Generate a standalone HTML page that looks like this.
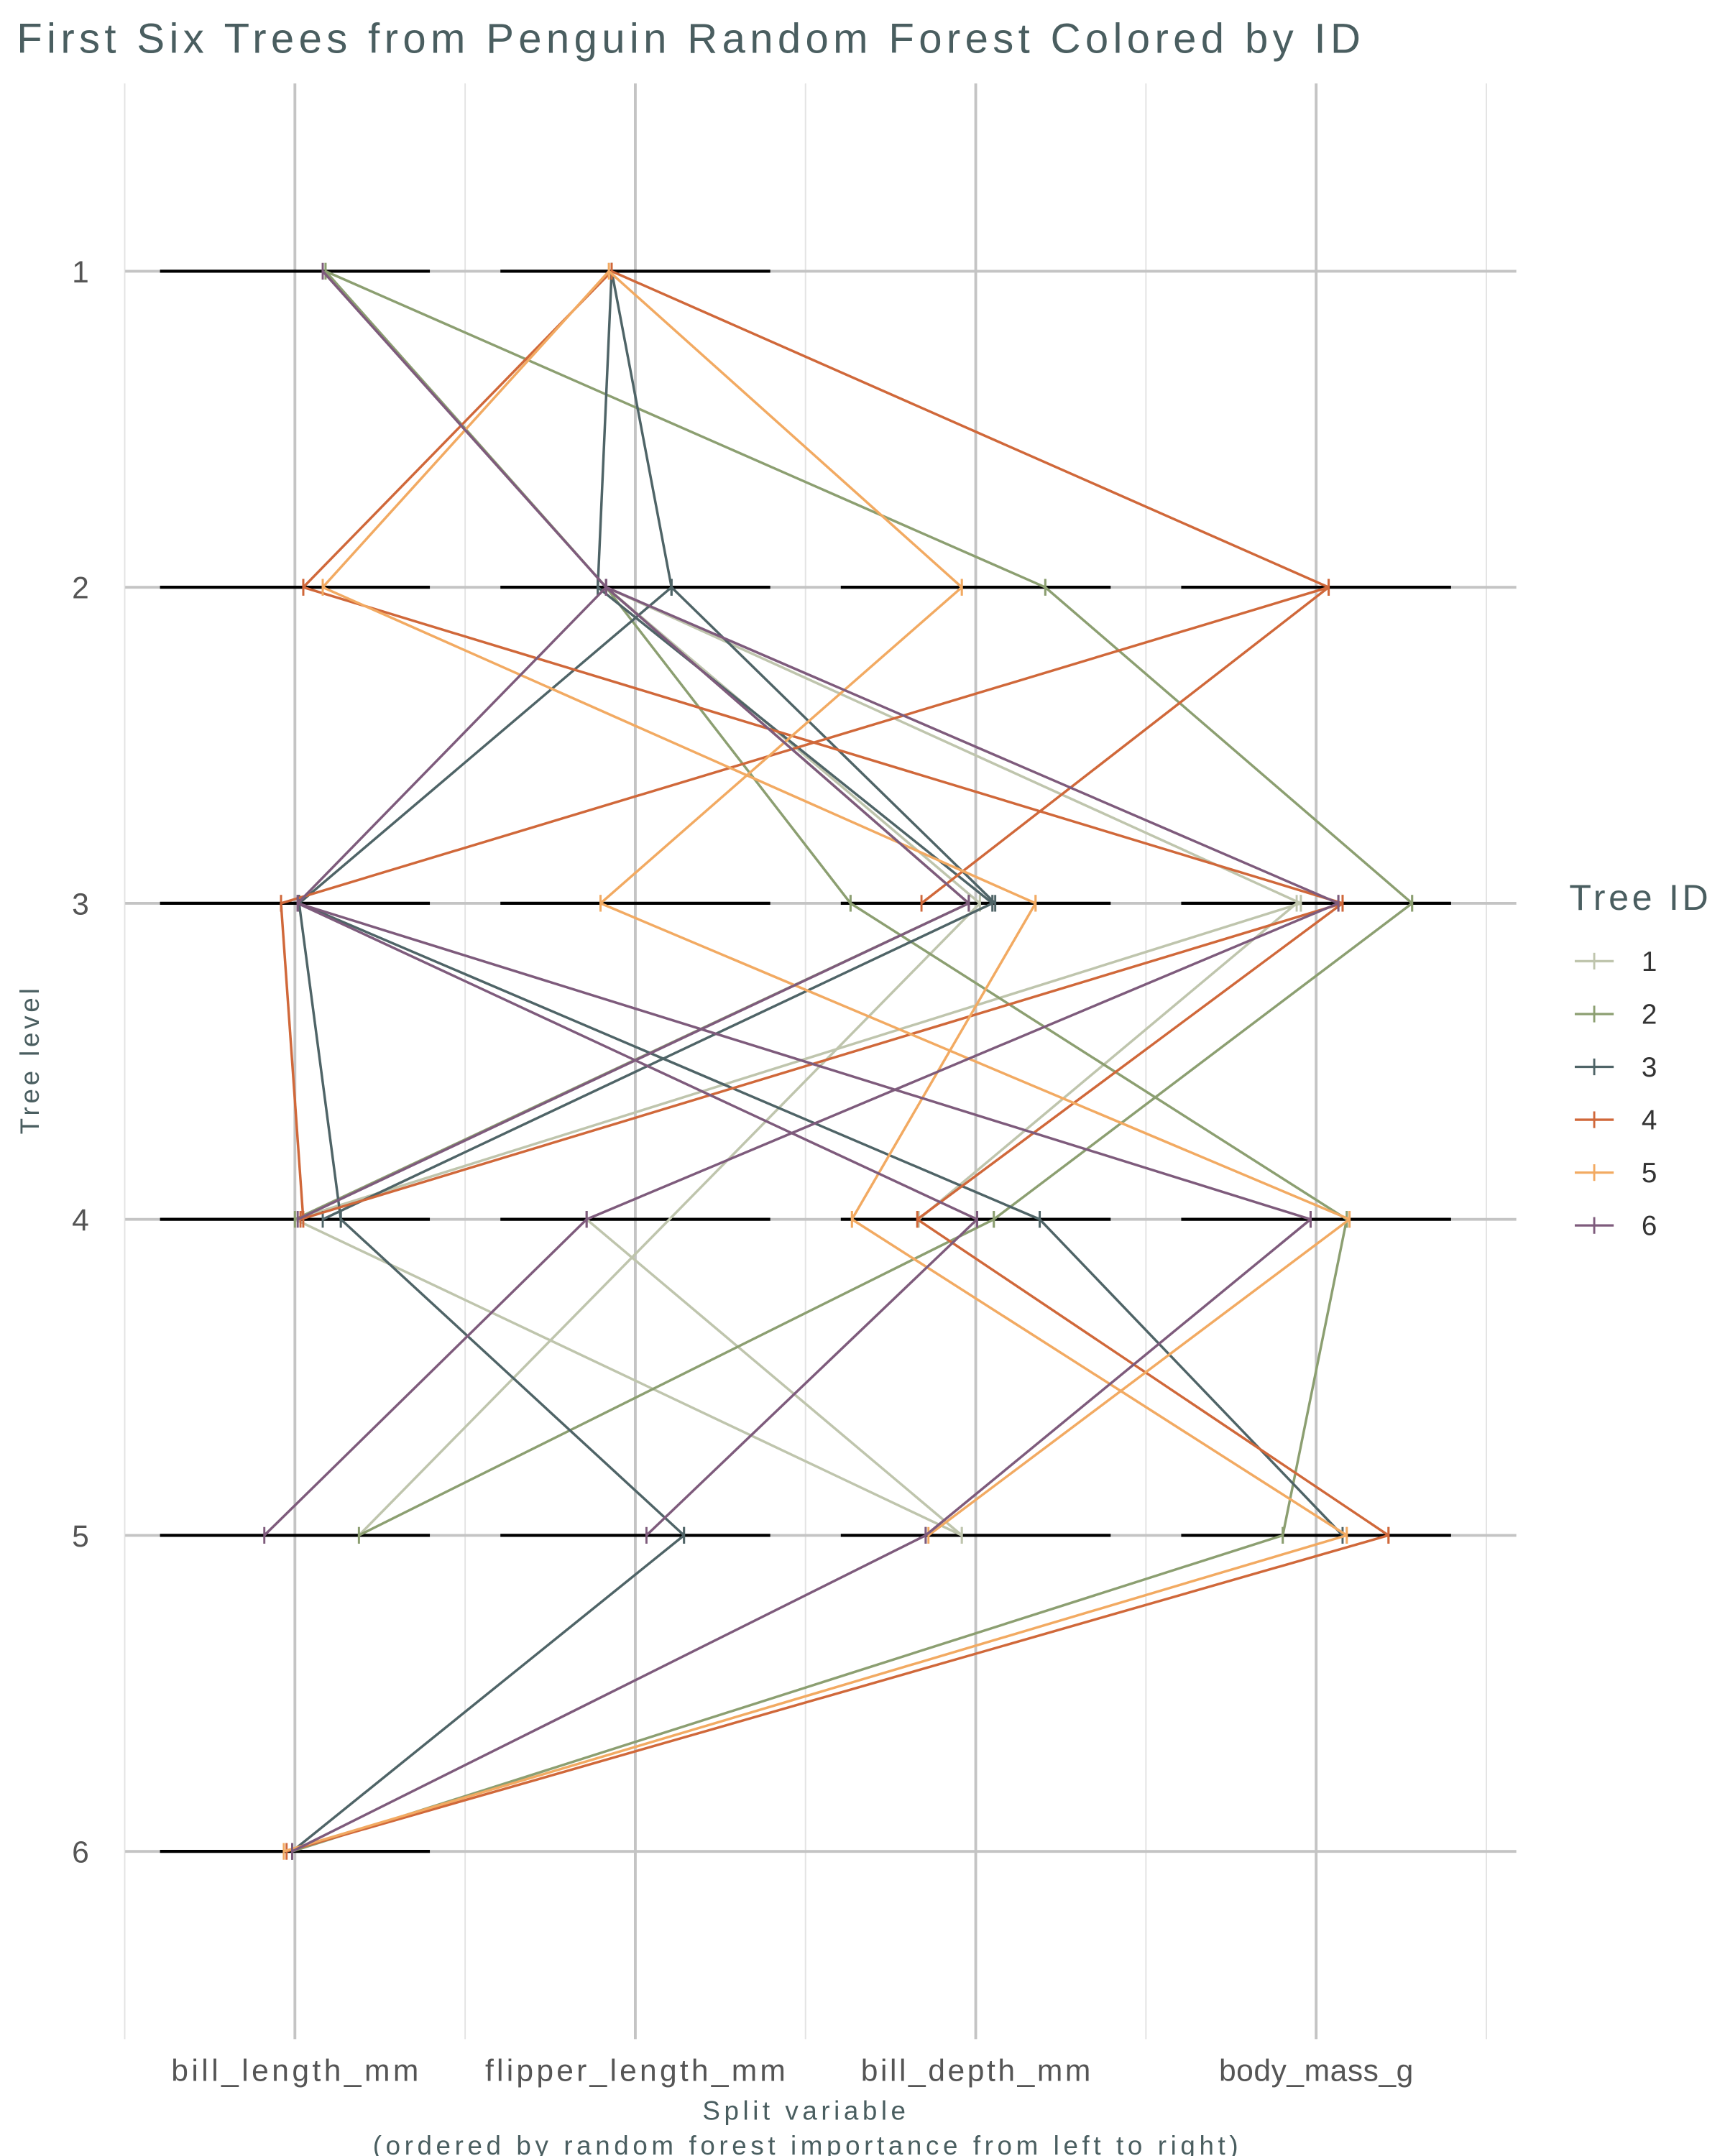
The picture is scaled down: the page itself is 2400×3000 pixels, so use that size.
<!DOCTYPE html>
<html><head><meta charset="utf-8"><style>
html,body{margin:0;padding:0;background:#fff;}
svg{display:block;}
text{font-family:"Liberation Sans",sans-serif;}
</style></head><body>
<svg id="chart" width="2400" height="3000" viewBox="0 0 1240 1550" xmlns="http://www.w3.org/2000/svg">
<text x="12" y="38" font-size="30" fill="#4a5e60" textLength="966" lengthAdjust="spacing">First Six Trees from Penguin Random Forest Colored by ID</text>
<g id="grid"></g>
<g id="bands"></g>
<g id="series"></g>
<g id="axes"></g>
<text transform="translate(28,763) rotate(-90)" text-anchor="middle" font-size="19" fill="#4a5e60" textLength="105" lengthAdjust="spacing">Tree level</text>
<text x="578" y="1524" text-anchor="middle" font-size="19" fill="#4a5e60" textLength="146" lengthAdjust="spacing">Split variable</text>
<text x="579" y="1549" text-anchor="middle" font-size="19" fill="#4a5e60" textLength="622" lengthAdjust="spacing">(ordered by random forest importance from left to right)</text>
<g id="legend"></g>
</svg>
<script>
const variables = ["bill_length_mm","flipper_length_mm","bill_depth_mm","body_mass_g"];
const levels = [1,2,3,4,5,6];
const treeIds = ["1","2","3","4","5","6"];
const treeColors = ["#bfc5ad","#8c9f71","#4f6467","#d0683a","#f2aa62","#7e5b7c"];
// bands present: [variableIndex, level]
const bands = [[0,1],[1,1],[0,2],[1,2],[2,2],[3,2],[0,3],[1,3],[2,3],[3,3],[0,4],[1,4],[2,4],[3,4],[0,5],[1,5],[2,5],[3,5],[0,6]];
// edges: [varFrom, levelFrom, splitFrom, varTo, levelTo, splitTo]; split is offset within band (-95..95)
const tree1 = [[0,1,20,1,2,-21],[1,2,-21,2,3,3],[1,2,-21,3,3,-11],[3,3,-11,0,4,0],[3,3,-14,2,4,-41],[2,3,3,0,5,46],[0,4,0,2,5,-10],[1,4,-35,2,5,-10]];
const tree2 = [[0,1,22,2,2,50],[0,1,22,1,2,-21],[2,2,50,3,3,69],[1,2,-21,2,3,-90],[2,3,-90,3,4,22],[1,2,-21,2,3,-5],[2,3,-5,0,4,0],[3,3,69,2,4,13],[2,4,13,0,5,46],[3,4,22,3,5,-24],[3,5,-24,0,6,-2]];
const tree3 = [[1,1,-17,1,2,-27],[1,1,-17,1,2,26],[1,2,-27,2,3,12],[1,2,26,0,3,3],[1,2,26,2,3,14],[0,3,3,2,4,46],[0,3,3,0,4,33],[0,4,33,1,5,35],[1,5,35,0,6,-2],[2,4,46,3,5,19],[2,3,12,0,4,20]];
const tree4 = [[1,1,-17,0,2,6],[1,1,-17,3,2,9],[0,2,6,3,3,19],[3,2,9,0,3,-10],[3,2,9,2,3,-39],[0,3,-10,0,4,6],[3,3,19,0,4,4],[3,3,19,2,4,-42],[2,4,-42,3,5,52],[3,5,52,0,6,-6]];
const tree5 = [[1,1,-19,0,2,20],[1,1,-19,2,2,-10],[0,2,20,2,3,43],[2,2,-10,1,3,-25],[1,3,-25,3,4,24],[2,3,43,2,4,-89],[2,4,-89,3,5,22],[3,4,24,2,5,-34],[3,5,22,0,6,-8]];
const tree6 = [[0,1,20,1,2,-21],[1,2,-21,0,3,2],[1,2,-21,3,3,16],[1,2,-21,2,3,-5],[0,3,2,2,4,1],[0,3,2,3,4,-4],[3,3,16,1,4,-35],[2,3,-5,0,4,2],[1,4,-35,0,5,-22],[2,4,1,1,5,8],[3,4,-4,2,5,-36],[2,5,-36,0,6,-2]];
const trees = [tree1,tree2,tree3,tree4,tree5,tree6];

const NS="http://www.w3.org/2000/svg";
const X0=212, XS=244.7, Y0=195, YS=227.2;
function xAxis(v,off){return X0+v*XS+(off||0);}
function yAxis(l){return Y0+(l-1)*YS;}
function mk(tag,attrs,parent){const e=document.createElementNS(NS,tag);for(const k in attrs)e.setAttribute(k,attrs[k]);parent.appendChild(e);return e;}
const grid=document.getElementById('grid'),bandsG=document.getElementById('bands'),series=document.getElementById('series'),axes=document.getElementById('axes'),legend=document.getElementById('legend');
for(let i=0;i<5;i++){
  const x=xAxis(i-0.5);
  const g=mk('line',{x1:x,x2:x,y1:60,y2:1466,stroke:'#e3e3e3','stroke-width':1},grid);
  
  
}
variables.forEach((v,i)=>{
  const x=xAxis(i);
  const g=mk('line',{x1:x,x2:x,y1:60,y2:1466,stroke:'#c4c4c4','stroke-width':2},grid);
  
  
  const t=mk('text',{x:x,y:1496,'text-anchor':'middle','font-size':22,fill:'#555',textLength:v.length*12.7,lengthAdjust:'spacing'},axes);
  t.textContent=v;
  
  
});
levels.forEach(l=>{
  const y=yAxis(l);
  const g=mk('line',{x1:90,x2:1090,y1:y,y2:y,stroke:'#c4c4c4','stroke-width':2},grid);
  
  
  const t=mk('text',{x:64,y:y+8,'text-anchor':'end','font-size':22,fill:'#555'},axes);
  t.textContent=l;
  
  
});
bands.forEach(b=>{
  const y=yAxis(b[1]);
  const e=mk('line',{x1:xAxis(b[0],-97),x2:xAxis(b[0],97),y1:y,y2:y,stroke:'#000','stroke-width':2.2},bandsG);
  
  
});
trees.forEach((edges,ti)=>{
  const c=treeColors[ti];
  edges.forEach(e=>{
    const x1=xAxis(e[0],e[2]),y1=yAxis(e[1]),x2=xAxis(e[3],e[5]),y2=yAxis(e[4]);
    const ln=mk('line',{x1:x1,y1:y1,x2:x2,y2:y2,stroke:c,'stroke-width':1.8},series);
    
    
    [[x1,y1],[x2,y2]].forEach(p=>{
      const m=mk('line',{x1:p[0],x2:p[0],y1:p[1]-6,y2:p[1]+6,stroke:c,'stroke-width':1.5},series);
      
      
    });
  });
});
const lt=mk('text',{x:1128,y:654,'font-size':26,fill:'#4a5e60',textLength:100,lengthAdjust:'spacing'},legend);
lt.textContent='Tree ID';


treeIds.forEach((id,i)=>{
  const y=691+i*38;
  const g=mk('g',{},legend);
  
  
  mk('line',{x1:1132,x2:1160,y1:y,y2:y,stroke:treeColors[i],'stroke-width':1.7},g);
  mk('line',{x1:1146,x2:1146,y1:y-6,y2:y+6,stroke:treeColors[i],'stroke-width':1.5},g);
  const t=mk('text',{x:1180,y:y+7,'font-size':20,fill:'#333'},g);
  t.textContent=id;
});
</script>
</body></html>
